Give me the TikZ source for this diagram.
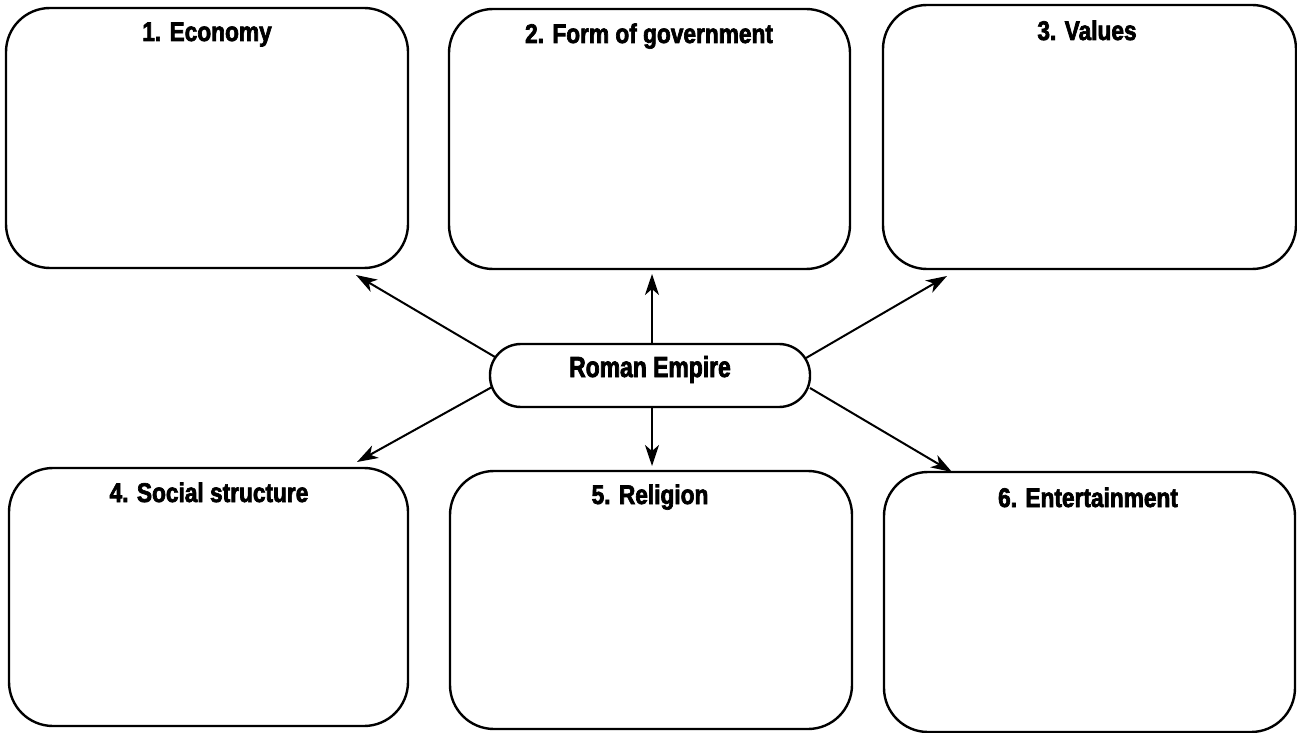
\documentclass[tikz,border=0pt]{standalone}
\usepackage{fontspec}
\newfontfamily\condfont[FakeStretch=0.84,FakeBold=2.5]{Liberation Sans}
\newfontfamily\condfontc[FakeStretch=0.79,FakeBold=2.5]{Liberation Sans}
\usetikzlibrary{arrows.meta}
\begin{document}
\begin{tikzpicture}[x=0.5pt,y=-0.5pt,
  box/.style={draw, line width=1.2pt, rounded corners=22pt, inner sep=0pt},
  title/.style={font=\condfont\bfseries\fontsize{13.5}{15}\selectfont, anchor=base, inner sep=0pt},
  pill/.style={draw, line width=1.2pt, rounded corners=15.5pt, minimum width=160pt,
    inner sep=0pt, text height=16.5pt, text depth=15pt,
    font=\condfontc\bfseries\fontsize{14.5}{16}\selectfont},
  conn/.style={line width=1pt, -{Stealth[length=10.5pt,width=7pt,inset=3pt]}}]
\useasboundingbox (0,0) rectangle (1297,733);
% boxes
\node[box, minimum width=201pt, minimum height=130pt] (b1) at (207,138) {};
\node[box, minimum width=200.5pt, minimum height=130pt] (b2) at (649.5,139) {};
\node[box, minimum width=206.5pt, minimum height=132pt] (b3) at (1089.5,137) {};
\node[box, minimum width=199.5pt, minimum height=129pt] (b4) at (208.5,597) {};
\node[box, minimum width=201pt, minimum height=129pt] (b5) at (651,600) {};
\node[box, minimum width=205.5pt, minimum height=130pt] (b6) at (1089.5,602) {};
% titles
\node[title] (l1) at (207,41) {1. Economy};
\node[title] (l2) at (649,43) {2. Form of government};
\node[title] (l3) at (1087,40) {3. Values};
\node[title] (l4) at (209,502) {4. Social structure};
\node[title] (l5) at (650,504) {5. Religion};
\node[title] (l6) at (1088,507) {6. Entertainment};
% center
\node[pill] (c) at (650,375.5) {Roman Empire};
% connector end points
\coordinate (s1) at (495,357);
\coordinate (s4) at (492,387);
\coordinate (s3) at (806,358);
\coordinate (s6) at (810,388);
\coordinate (s2) at (652,344);
\coordinate (s5) at (652,407);
\coordinate (t1) at (356,275);
\coordinate (t4) at (357,462);
\coordinate (t3) at (947,276);
\coordinate (t6) at (952,472);
\coordinate (t2) at (652,274);
\coordinate (t5) at (652,466);
\draw[conn] (s1) -- (t1);
\draw[conn] (s2) -- (t2);
\draw[conn] (s3) -- (t3);
\draw[conn] (s4) -- (t4);
\draw[conn] (s5) -- (t5);
\draw[conn] (s6) -- (t6);
\end{tikzpicture}
\end{document}
